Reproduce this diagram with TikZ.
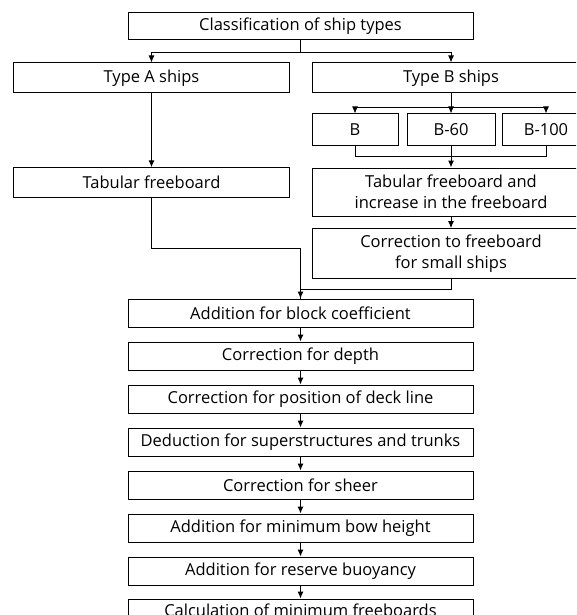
\documentclass[tikz,border=0pt]{standalone}
\usepackage{fontspec}
\setmainfont{Open Sans}
\usetikzlibrary{arrows.meta, positioning}
\tikzset{
  mainbox/.style={draw, line width=1pt, align=center, inner sep=0pt, minimum width=345pt, minimum height=28pt},
  branchbox/.style={draw, line width=1pt, align=center, inner sep=0pt, minimum width=276pt, minimum height=30pt},
  rightbox/.style={draw, line width=1pt, align=center, inner sep=0pt, minimum width=278pt, minimum height=30pt},
  variant/.style={draw, line width=1pt, align=center, inner sep=0pt, minimum width=88pt, minimum height=31pt},
  arrow/.style={-{Latex[length=7pt, width=6pt]}, line width=1pt},
  link/.style={line width=1pt},
  every node/.style={font=\fontsize{16.5}{20.5}\selectfont}
}

\begin{document}
\begin{tikzpicture}[x=1pt, y=-1pt, node distance=14pt]
    \useasboundingbox (0,0) rectangle (576,615);
    \clip (0,0) rectangle (576,615);

    \node[mainbox, minimum height=27pt] (cls) at (300.5,26) {Classification of ship types};
    \node[branchbox] (typea) at (151.5,78) {Type A ships};
    \node[rightbox] (typeb) at (451,78) {Type B ships};
    \node[variant, minimum width=86pt] (b) at (355,129.5) {B};
    \node[variant] (b60) at (451,129.5) {B-60};
    \node[variant] (b100) at (546,129.5) {B-100};
    \node[branchbox, minimum height=29.5pt] (taba) at (151.5,182.5) {Tabular freeboard};
    \node[rightbox, minimum height=48pt] (tabb) at (451,192) {Tabular freeboard and\\increase in the freeboard};
    \node[rightbox, minimum height=50pt, below=11.7pt of tabb] (small) {Correction to freeboard\\for small ships};
    \node[mainbox] (block) at (300.5,313) {Addition for block coefficient};
    \node[mainbox, below=of block] (depth) {Correction for depth};
    \node[mainbox, below=of depth] (deck) {Correction for position of deck line};
    \node[mainbox, below=of deck] (super) {Deduction for superstructures and trunks};
    \node[mainbox, below=of super] (sheer) {Correction for sheer};
    \node[mainbox, below=of sheer] (bow) {Addition for minimum bow height};
    \node[mainbox, below=of bow] (reserve) {Addition for reserve buoyancy};
    \node[mainbox, below=13pt of reserve, text depth=6pt] (calc) {Calculation of minimum freeboards};

    \draw[arrow] (cls.south) -- ++(0,12.4) -| (typea.north);
    \draw[arrow] (cls.south) -- ++(0,12.4) -| (typeb.north);
    \draw[arrow] (typeb.south) -- ++(0,13.7) -| (b.north);
    \draw[arrow] (typeb.south) -- ++(0,13.7) -| (b100.north);
    \draw[arrow] (typeb.south) -- (b60.north);
    \draw[link] (b.south) -- ++(0,10.7) -| (b100.south);
    \draw[arrow] (b60.south) -- (tabb.north);
    \draw[arrow] (typea.south) -- (taba.north);
    \draw[arrow] (tabb.south) -- (small.north);
    \draw[arrow] (taba.south) -- ++(0,50.4) -| (block.north);
    \draw[link] (small.south) -- ++(0,10.3) -| (block.north);
    \draw[arrow] (block) -- (depth);
    \draw[arrow] (depth) -- (deck);
    \draw[arrow] (deck) -- (super);
    \draw[arrow] (super) -- (sheer);
    \draw[arrow] (sheer) -- (bow);
    \draw[arrow] (bow) -- (reserve);
    \draw[arrow] (reserve) -- (calc);
\end{tikzpicture}
\end{document}
